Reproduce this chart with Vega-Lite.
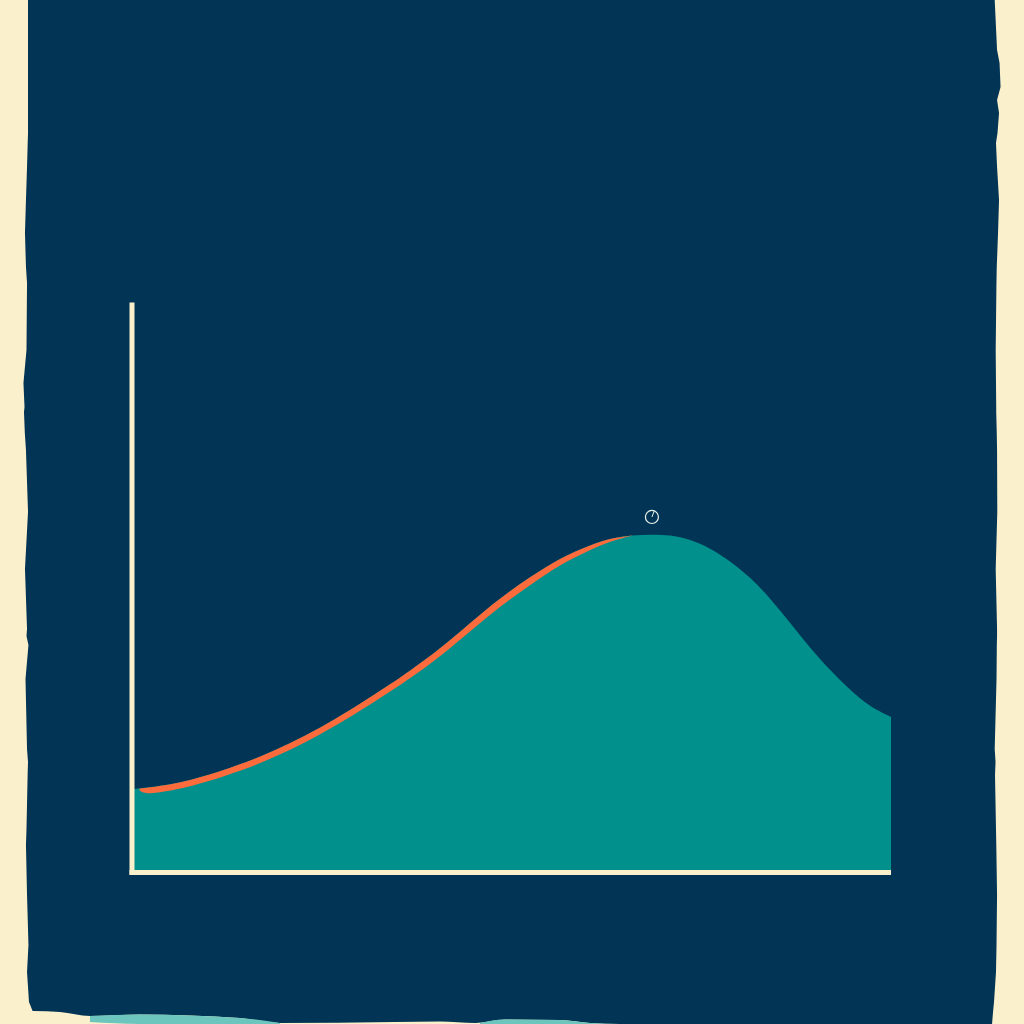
{
  "$schema": "https://vega.github.io/schema/vega-lite/v6.json",
  "width": 1024,
  "height": 1024,
  "autosize": {"type": "fit", "contains": "padding"},
  "padding": 0,
  "background": "#FBF0CC",
  "view": {"stroke": null},
  "datasets": {
    "panel": [
      {"y": 153.07, "left": -13.7, "right": 113.66},
      {"y": 144.3, "left": -13.7, "right": 113.97},
      {"y": 142.02, "left": -13.7, "right": 114.3},
      {"y": 137.81, "left": -13.7, "right": 114.43},
      {"y": 135.53, "left": -13.7, "right": 113.97},
      {"y": 133.25, "left": -13.7, "right": 114.23},
      {"y": 129.74, "left": -13.7, "right": 114.03},
      {"y": 127.98, "left": -13.74, "right": 113.83},
      {"y": 123.77, "left": -13.83, "right": 113.97},
      {"y": 117.98, "left": -13.97, "right": 114.23},
      {"y": 112.19, "left": -14.1, "right": 114.1},
      {"y": 106.23, "left": -13.97, "right": 113.93},
      {"y": 103.42, "left": -13.83, "right": 113.89},
      {"y": 91.67, "left": -13.9, "right": 113.79},
      {"y": 85.88, "left": -14.3, "right": 113.83},
      {"y": 81.67, "left": -14.16, "right": 113.86},
      {"y": 80.79, "left": -14.23, "right": 113.86},
      {"y": 77.11, "left": -14.12, "right": 113.93},
      {"y": 74.12, "left": -13.97, "right": 113.97},
      {"y": 63.25, "left": -13.7, "right": 114},
      {"y": 53.25, "left": -14.1, "right": 113.79},
      {"y": 42.72, "left": -13.83, "right": 113.97},
      {"y": 41.49, "left": -13.9, "right": 113.97},
      {"y": 39.91, "left": -13.64, "right": 113.94},
      {"y": 33.95, "left": -14.03, "right": 113.9},
      {"y": 21.67, "left": -13.83, "right": 113.66},
      {"y": 19.39, "left": -13.7, "right": 113.77},
      {"y": 17.11, "left": -13.75, "right": 113.7},
      {"y": 7.63, "left": -13.9, "right": 113.83},
      {"y": 4.82, "left": -13.97, "right": 113.87},
      {"y": -3.95, "left": -13.83, "right": 113.97},
      {"y": -12.72, "left": -13.64, "right": 113.9},
      {"y": -17.46, "left": -13.83, "right": 113.83},
      {"y": -22.72, "left": -13.57, "right": 113.57},
      {"y": -24.47, "left": -13.04, "right": 113.44},
      {"y": -26.58, "left": -13.04, "right": 113.31}
    ],
    "paper": [
      {"x": -14.1, "y": -24.3},
      {"x": -13.04, "y": -24.3},
      {"x": -9.49, "y": -24.47},
      {"x": -5.53, "y": -25.18},
      {"x": 1.05, "y": -24.91},
      {"x": 14.23, "y": -25.53},
      {"x": 19.5, "y": -26.4},
      {"x": 34.65, "y": -26.23},
      {"x": 40.58, "y": -26.14},
      {"x": 45.2, "y": -26.4},
      {"x": 49.14, "y": -25.79},
      {"x": 56.39, "y": -25.88},
      {"x": 60.34, "y": -26.4},
      {"x": 64.3, "y": -26.58},
      {"x": 117.5, "y": -26.58}
    ],
    "strip": [
      {"part": "a", "x": -5.53, "y": -25.18, "y2": -26.23},
      {"part": "a", "x": 1.05, "y": -24.91, "y2": -26.58},
      {"part": "a", "x": 14.23, "y": -25.53, "y2": -26.58},
      {"part": "a", "x": 19.5, "y": -26.4, "y2": -26.58},
      {"part": "b", "x": 45.85, "y": -26.4, "y2": -26.58},
      {"part": "b", "x": 49.14, "y": -25.79, "y2": -26.58},
      {"part": "b", "x": 56.39, "y": -25.88, "y2": -26.58},
      {"part": "b", "x": 60.34, "y": -26.4, "y2": -26.58},
      {"part": "b", "x": 64.3, "y": -26.58, "y2": -26.58}
    ],
    "curve": [
      {"x": 0, "y": 14.6},
      {"x": 5, "y": 15.35},
      {"x": 9, "y": 16.58},
      {"x": 16.9, "y": 20.09},
      {"x": 24.8, "y": 25.18},
      {"x": 32.7, "y": 31.84},
      {"x": 36.6, "y": 35.35},
      {"x": 40.58, "y": 39.21},
      {"x": 44.53, "y": 43.77},
      {"x": 48.48, "y": 48.16},
      {"x": 52.44, "y": 51.84},
      {"x": 56.39, "y": 55.18},
      {"x": 60.34, "y": 57.46},
      {"x": 63.37, "y": 58.71},
      {"x": 66.01, "y": 59.16},
      {"x": 68.25, "y": 59.3},
      {"x": 70.88, "y": 59.24},
      {"x": 73.52, "y": 58.43},
      {"x": 76.15, "y": 56.93},
      {"x": 78.79, "y": 54.65},
      {"x": 81.42, "y": 51.84},
      {"x": 84.06, "y": 48.13},
      {"x": 86.69, "y": 43.85},
      {"x": 89.33, "y": 39.39},
      {"x": 91.96, "y": 35.53},
      {"x": 94.6, "y": 32.02},
      {"x": 97.23, "y": 29.04},
      {"x": 100, "y": 27.28}
    ],
    "highlight": [
      {"x": 1, "y": 14.72, "y2": 14.4},
      {"x": 1.7, "y": 14.84, "y2": 13.7},
      {"x": 5, "y": 15.35, "y2": 14.3},
      {"x": 9, "y": 16.58, "y2": 15.5},
      {"x": 16.9, "y": 20.09, "y2": 18.95},
      {"x": 24.8, "y": 25.18, "y2": 23.98},
      {"x": 32.7, "y": 31.84, "y2": 30.54},
      {"x": 36.6, "y": 35.35, "y2": 34},
      {"x": 40.58, "y": 39.21, "y2": 37.81},
      {"x": 44.53, "y": 43.77, "y2": 42.3},
      {"x": 48.48, "y": 48.16, "y2": 46.66},
      {"x": 52.44, "y": 51.84, "y2": 50.44},
      {"x": 56.39, "y": 55.18, "y2": 54.03},
      {"x": 60.34, "y": 57.46, "y2": 56.58},
      {"x": 63.37, "y": 58.71, "y2": 58.27},
      {"x": 66.01, "y": 59.16, "y2": 59.16}
    ],
    "needle": [
      {"x": 68.5, "y": 62.37},
      {"x": 68.8, "y": 63.4}
    ]
  },
  "encoding": {
    "x": {"field": "x", "type": "quantitative", "axis": null, "scale": {"domain": [-17.39, 117.52], "nice": false, "zero": false}},
    "y": {"field": "y", "type": "quantitative", "axis": null, "scale": {"domain": [-26.58, 153.07], "nice": false, "zero": false}}
  },
  "layer": [
    {
      "data": {"name": "panel"},
      "mark": {"type": "area", "orient": "horizontal", "color": "#023555"},
      "encoding": {
        "x": {"field": "left", "type": "quantitative"},
        "x2": {"field": "right"}
      }
    },
    {
      "data": {"name": "paper"},
      "mark": {"type": "area", "color": "#FBF0CC", "interpolate": "monotone"},
      "encoding": {"y2": {"datum": -26.58}}
    },
    {
      "data": {"name": "strip"},
      "mark": {"type": "area", "color": "#6CC6BE", "interpolate": "monotone"},
      "encoding": {
        "y2": {"field": "y2"},
        "detail": {"field": "part"}
      }
    },
    {
      "data": {"name": "curve"},
      "mark": {"type": "area", "color": "#01908B", "interpolate": "basis"},
      "encoding": {"y2": {"datum": 0}}
    },
    {
      "data": {"name": "highlight"},
      "mark": {"type": "area", "color": "#FC6B3C", "interpolate": "basis"},
      "encoding": {"y2": {"field": "y2"}}
    },
    {
      "data": {"values": [{"x": 0, "y": -0.4, "y2": 100}]},
      "mark": {"type": "rule", "color": "#FBF0CC", "strokeWidth": 5},
      "encoding": {"y2": {"field": "y2"}}
    },
    {
      "data": {"values": [{"x": -0.33, "x2": 100, "y": 0}]},
      "mark": {"type": "rule", "color": "#FBF0CC", "strokeWidth": 5},
      "encoding": {"x2": {"field": "x2"}}
    },
    {
      "data": {"values": [{"x": 68.5, "y": 62.37}]},
      "mark": {"type": "point", "shape": "circle", "size": 170, "filled": false, "color": "#EAF3EA", "strokeWidth": 1.2, "opacity": 1}
    },
    {
      "data": {"name": "needle"},
      "mark": {"type": "line", "color": "#EAF3EA", "strokeWidth": 1}
    }
  ]
}
